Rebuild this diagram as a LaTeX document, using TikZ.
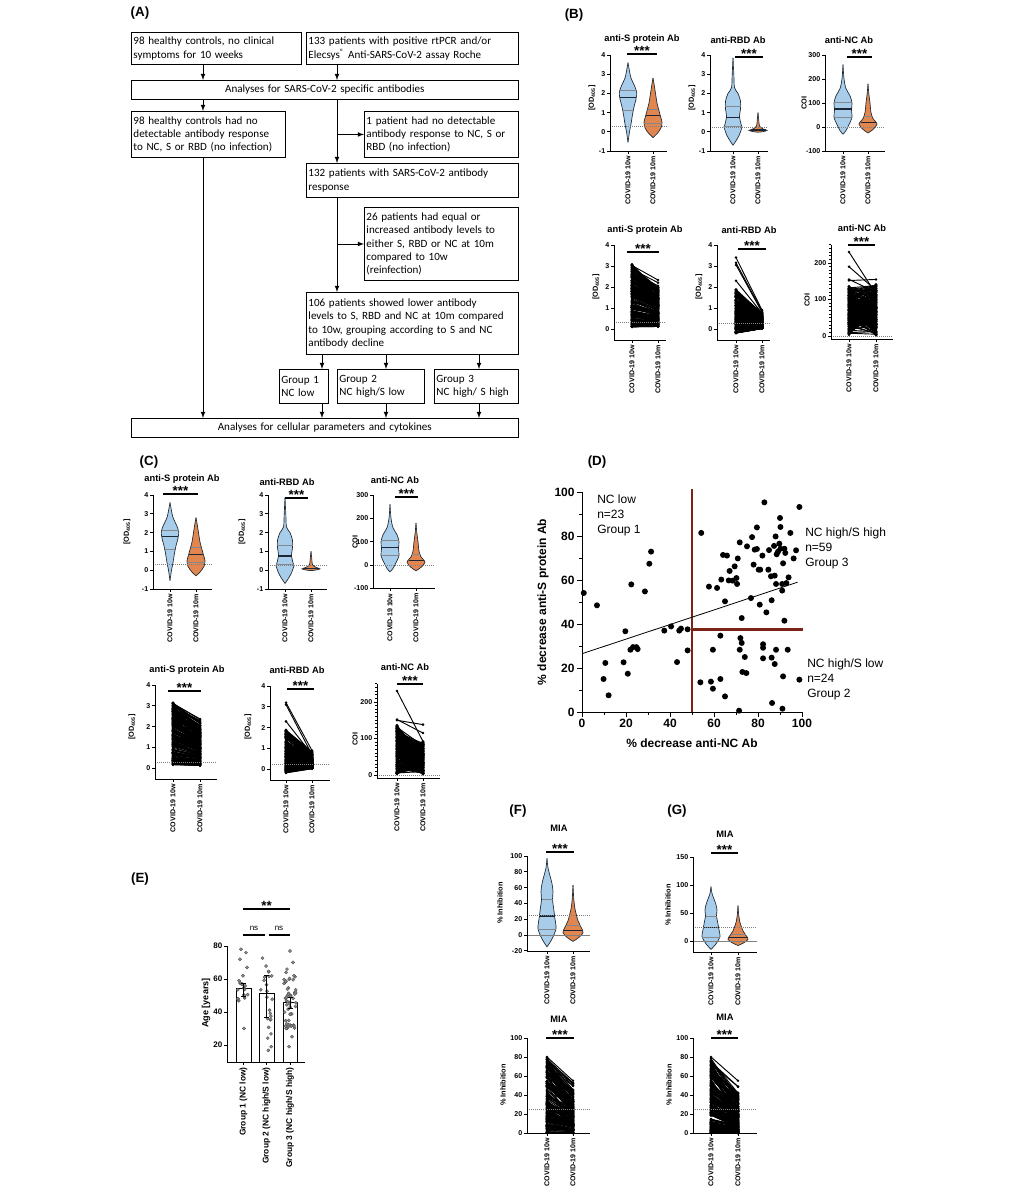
\documentclass[tikz,border=0pt]{standalone}
\usepackage{fontspec}
\setmainfont{Liberation Sans}
\newfontfamily\flowfont{Carlito}
\usetikzlibrary{calc}
\tikzset{>=latex}
\definecolor{vblue}{HTML}{A7CDEB}
\definecolor{vorange}{HTML}{E0864E}
\definecolor{vedge}{HTML}{1D2733}
\definecolor{dred}{HTML}{7B2316}
\definecolor{edotc}{HTML}{8C8C8C}

\tikzset{
  flow/.style={draw, line width=0.7pt, anchor=north west, align=left, inner xsep=1.5pt, inner ysep=1pt,
    font=\flowfont\fontsize{8.3}{10}\selectfont, execute at begin node={\hyphenpenalty=10000\relax}},
  flowc/.style={flow, align=center},
  link/.style={line width=0.6pt},
  axline/.style={line width=0.7pt},
  ticklab/.style={font=\bfseries\fontsize{5.3}{6}\selectfont, inner sep=1pt},
  catlab/.style={font=\bfseries\fontsize{5.3}{6}\selectfont, rotate=90, anchor=east, inner sep=0pt},
  ttl/.style={font=\bfseries\fontsize{7}{8}\selectfont, inner sep=0pt},
  ylab/.style={font=\bfseries\fontsize{5.5}{6}\selectfont, rotate=90, inner sep=0pt},
  starlab/.style={font=\bfseries\fontsize{10}{10}\selectfont, anchor=base, inner sep=0pt, text height=6.5pt, text depth=0pt},
  nslab/.style={font=\fontsize{6}{6}\selectfont, anchor=base, inner sep=0pt},
  sigbar/.style={line width=1pt},
  thr/.style={gray, densely dotted, line width=0.5pt},
  vline/.style={vedge, line width=0.5pt},
  vmed/.style={vedge, line width=1pt},
  vq/.style={vedge!55, line width=0.35pt},
  pline/.style={line width=0.7pt},
  edot/.style={fill=edotc, draw=black!70, line width=0.25pt},
  eticklab/.style={font=\bfseries\fontsize{6}{7}\selectfont, inner sep=1pt},
  ecatlab/.style={font=\bfseries\fontsize{6.3}{7}\selectfont, rotate=90, anchor=east, inner sep=0pt},
  dtick/.style={font=\bfseries\fontsize{9}{10}\selectfont, inner sep=1.5pt},
  dlab/.style={font=\bfseries\fontsize{9}{10}\selectfont, inner sep=0pt},
  dgrp/.style={font=\fontsize{9}{11}\selectfont, align=left, anchor=north west, inner sep=0pt},
  panellab/.style={font=\bfseries\fontsize{10}{12}\selectfont, inner sep=0pt},
}

% y axis ticks: name prefix, x of axis, list of position/label
\newcommand\yticks[3]{%
  \foreach \tp/\tl [count=\i] in {#3}
    \draw[axline] (#2,\tp) -- ++(-3,0) node[ticklab,left] (#1t\i) {\tl};}
% category ticks and labels under an x axis
\newcommand\cats[4]{%
  \draw[axline] (#2,#4) -- ++(0,3) (#3,#4) -- ++(0,3);
  \node[catlab] (#1c1) at (#2,#4+5) {COVID-19 10w};
  \node[catlab] (#1c2) at (#3,#4+5) {COVID-19 10m};}
% significance bar with stars
\newcommand\sig[4]{%
  \draw[sigbar] (#2,#4) -- (#3,#4);
  \node[starlab] (#1s) at ({(#2+#3)/2},#4+1) {***};}
% violin: centre, y of zero, px per unit, colour, right half (width,value) top to bottom
\newcommand\violin[5]{%
  \begin{scope}[shift={(#1,#2)},yscale=-#3]
    \foreach \s in {1,-1}{
      \fill[#4,xscale=\s] plot[smooth] coordinates {#5} -- cycle;
      \draw[vline,xscale=\s] plot[smooth] coordinates {#5};
    }
  \end{scope}}
\newcommand\vbar[4]{\draw[#1] ({#2-#4},{#3}) -- ({#2+#4},{#3});}
\newcommand\vSw[3]{%
  \violin{#1}{#2}{#3}{vblue}{(0,3.6) (1,3.3) (3,2.8) (6.5,2.4) (8.7,2.05) (8,1.7) (6,1.3) (4.5,0.9) (3,0.4) (1.5,0) (0,-0.55)}%
  \vbar{vq}{#1}{#2-#3*2.15}{8.5}\vbar{vq}{#1}{#2-#3*1.1}{5.2}\vbar{vmed}{#1}{#2-#3*1.8}{8.2}}
\newcommand\vSm[3]{%
  \violin{#1}{#2}{#3}{vorange}{(0,2.8) (1,2.5) (2.5,2.0) (4,1.5) (6,1.1) (7.5,0.8) (9,0.5) (8,0.2) (4,-0.1) (0,-0.3)}%
  \vbar{vq}{#1}{#2-#3*1.2}{5.4}\vbar{vq}{#1}{#2-#3*0.45}{8.9}\vbar{vmed}{#1}{#2-#3*0.85}{7.3}}
\newcommand\vRw[3]{%
  \violin{#1}{#2}{#3}{vblue}{(0,3.85) (0.8,3.0) (1.5,2.3) (5,2.0) (7.5,1.6) (7.5,1.2) (6.5,0.8) (8,0.4) (9,0.25) (6,-0.2) (2,-0.55) (0,-0.7)}%
  \vbar{vq}{#1}{#2-#3*1.35}{7.6}\vbar{vq}{#1}{#2-#3*0.3}{8.8}\vbar{vmed}{#1}{#2-#3*0.75}{6.8}}
\newcommand\vRm[3]{%
  \violin{#1}{#2}{#3}{vorange}{(0,1.0) (0.8,0.6) (1.5,0.3) (5,0.15) (9,0.07) (4,0.0) (0,-0.02)}%
  \vbar{vmed}{#1}{#2-#3*0.1}{7.5}}
\newcommand\vNw[3]{%
  \violin{#1}{#2}{#3}{vblue}{(0,260) (1,200) (3,160) (7,130) (9,100) (8.5,70) (9,40) (6,10) (3,-15) (0,-30)}%
  \vbar{vq}{#1}{#2-#3*105}{8.9}\vbar{vq}{#1}{#2-#3*40}{9}\vbar{vmed}{#1}{#2-#3*75}{8.6}}
\newcommand\vNm[3]{%
  \violin{#1}{#2}{#3}{vorange}{(0,180) (0.8,140) (2,100) (3,60) (5,35) (9,12) (5,-10) (0,-25)}%
  \vbar{vq}{#1}{#2-#3*45}{4}\vbar{vmed}{#1}{#2-#3*20}{7.5}}
\newcommand\vMw[3]{%
  \violin{#1}{#2}{#3}{vblue}{(0,97) (1,85) (3,75) (5,65) (6,55) (5.5,45) (6.5,35) (8,20) (9,8) (5,-5) (0,-15)}%
  \vbar{vq}{#1}{#2-#3*45}{5.5}\vbar{vq}{#1}{#2-#3*7}{8.9}\vbar{vmed}{#1}{#2-#3*24}{7.6}}
\newcommand\vMm[3]{%
  \violin{#1}{#2}{#3}{vorange}{(0,63) (0.8,45) (2,33) (3.5,25) (5,18) (8,10) (10,3) (5,-4) (0,-8)}%
  \vbar{vq}{#1}{#2-#3*12}{7.5}\vbar{vmed}{#1}{#2-#3*6}{9.2}}
% paired lines: x 10w, x 10m, y of zero, px per unit, count, value 10w, value 10m
\newcommand\pairs[7]{%
  \foreach \i in {1,...,#5}{%
    \pgfmathsetmacro\va{#6}%
    \pgfmathsetmacro\vb{#7}%
    \draw[pline] (#1,{#3-#4*(\va)}) -- (#2,{#3-#4*(\vb)});
    \fill (#1,{#3-#4*(\va)}) circle[radius=1.4] (#2,{#3-#4*(\vb)}) circle[radius=1.4];}}
\newcommand\pair[6]{%
  \draw[pline] (#1,{#3-#4*(#5)}) -- (#2,{#3-#4*(#6)});
  \fill (#1,{#3-#4*(#5)}) circle[radius=1.4] (#2,{#3-#4*(#6)}) circle[radius=1.4];}
% age dots: centre, count, value
\newcommand\edots[3]{%
  \foreach \i in {1,...,#2}{%
    \pgfmathsetmacro\ev{#3}%
    \pgfmathsetmacro\ex{#1+12*(rnd-0.5)}%
    \filldraw[edot] (\ex,{1078-1.65*\ev}) circle[radius=1.6];}}

\begin{document}
\begin{tikzpicture}[x=0.75pt,y=-0.75pt]
  \pgfmathsetseed{11}
  \path[use as bounding box, fill=white] (0,0) rectangle (1008,1200);

  % (A) flow chart
  \node[panellab] (lblA) at (140,13) {(A)};
  \node[flow, text width=124.5pt, minimum height=24pt] (hc10w) at (131,32) {98 healthy controls, no clinical\\symptoms for 10 weeks};
  \node[flow, text width=156pt, minimum height=24pt] (pat133) at (306,32) {133 patients with positive rtPCR and/or\\Elecsys\textsuperscript{®} Anti-SARS-CoV-2 assay Roche};
  \node[flowc, text width=287pt, minimum height=14.25pt] (abtest) at (131,80) {Analyses for SARS-CoV-2 specific antibodies};
  \node[flow, text width=112.5pt, minimum height=34.5pt] (hcneg) at (131,111) {98 healthy controls had no\\detectable antibody response\\to NC, S or RBD (no infection)};
  \node[flow, text width=112.5pt, minimum height=34.5pt] (patneg) at (364,111) {1 patient had no detectable\\antibody response to NC, S or\\RBD (no infection)};
  \node[flow, text width=156pt, minimum height=25.5pt] (pat132) at (306,163) {132 patients with SARS-CoV-2 antibody\\response};
  \node[flow, text width=112.5pt, minimum height=54.75pt] (reinf) at (364,207) {26 patients had equal or\\increased antibody levels to\\either S, RBD or NC at 10m\\compared to 10w\\(reinfection)};
  \node[flow, text width=156pt, minimum height=46.5pt] (pat106) at (306,292) {106 patients showed lower antibody\\levels to S, RBD and NC at 10m compared\\to 10w, grouping according to S and NC\\antibody decline};
  \node[flow, text width=33.75pt, minimum height=25.5pt] (grp1) at (279,369) {Group 1\\NC low};
  \node[flow, text width=62.25pt, minimum height=25.5pt] (grp2) at (337,369) {Group 2\\NC high/S low};
  \node[flow, text width=60pt, minimum height=25.5pt] (grp3) at (434,369) {Group 3\\NC high/ S high};
  \node[flowc, text width=287pt, minimum height=14.25pt] (cellan) at (131,418) {Analyses for cellular parameters and cytokines};

  \coordinate (xh) at (203,0);
  \coordinate (xp) at (337,0);
  \coordinate (xg1) at (322,0);
  \coordinate (xg2) at (386,0);
  \coordinate (xg3) at (479,0);
  \draw[link,->] (hc10w.south -| xh) -- (abtest.north -| xh);
  \draw[link,->] (pat133.south -| xp) -- (abtest.north -| xp);
  \draw[link,->] (abtest.south -| xh) -- (hcneg.north -| xh);
  \draw[link,->] (abtest.south -| xp) -- (pat132.north -| xp);
  \draw[link,->] (patneg.west -| xp) -- (patneg.west);
  \draw[link,->] (pat132.south -| xp) -- (pat106.north -| xp);
  \draw[link,->] (reinf.west -| xp) -- (reinf.west);
  \foreach \g/\c in {grp1/xg1, grp2/xg2, grp3/xg3}{
    \draw[link,->] (pat106.south -| \c) -- (\g.north -| \c);
    \draw[link,->] (\g.south -| \c) -- (cellan.north -| \c);
  }
  \draw[link,->] (hcneg.south -| xh) -- (cellan.north -| xh);

  % (B) violins
  \node[panellab] (lblB) at (574,15) {(B)};
  \vSw{628}{131.8}{19.2}
  \vSm{653}{131.8}{19.2}
  \draw[thr] (610,126) -- (667,126);
  \draw[axline] (610,55) -- (610,151) -- (667,151);
  \yticks{bs}{610}{55/4,74.2/3,93.4/2,112.6/1,131.8/0,151/-1}
  \cats{bs}{628}{653}{151}
  \node[ttl] (bst) at (642,39) {anti-S protein Ab};
  \sig{bs}{627}{657}{54}
  \node[ylab] (bsy) at (592,98) {[OD\textsubscript{405}]};

  \vRw{733}{131.8}{19.2}
  \vRm{758}{131.8}{19.2}
  \draw[thr] (710,127) -- (768,127);
  \draw[axline] (710,55) -- (710,151) -- (768,151);
  \yticks{br}{710}{55/4,74.2/3,93.4/2,112.6/1,131.8/0,151/-1}
  \cats{br}{733}{758}{151}
  \node[ttl] (brt) at (738,40) {anti-RBD Ab};
  \sig{br}{735}{763}{57}
  \node[ylab] (bry) at (692,98) {[OD\textsubscript{405}]};

  \vNw{843}{127}{0.24}
  \vNm{868}{127}{0.24}
  \draw[thr] (825,127) -- (885,127);
  \draw[axline] (825,55) -- (825,151) -- (885,151);
  \yticks{bn}{825}{55/300,79/200,103/100,127/0,151/-100}
  \cats{bn}{843}{868}{151}
  \node[ttl] (bnt) at (849,40) {anti-NC Ab};
  \sig{bn}{847}{872}{57}
  \node[ylab] (bny) at (804,103) {COI};

  % (B) paired
  \pairs{632}{658}{329}{21}{190}{0.1+3*rnd}{0.12+(\va-0.1)*(0.5+0.27*rnd)}
  \draw[thr] (614,322.7) -- (666,322.7);
  \draw[axline] (614,245) -- (614,340) -- (666,340);
  \yticks{bps}{614}{245/4,266/3,287/2,308/1,329/0}
  \cats{bps}{632}{658}{340}
  \node[ttl] (bpst) at (645,230) {anti-S protein Ab};
  \sig{bps}{627}{659}{252}
  \node[ylab] (bpsy) at (596,287) {[OD\textsubscript{405}]};

  \pairs{736}{762}{329}{21}{190}{-0.2+2.1*rnd^1.2}{0.02+(\va+0.2)*(0.2+0.2*rnd)}
  \pair{736}{762}{329}{21}{3.4}{0.9}
  \pair{736}{762}{329}{21}{3.15}{0.85}
  \pair{736}{762}{329}{21}{3.05}{0.8}
  \pair{736}{762}{329}{21}{2.3}{0.75}
  \draw[thr] (717,323.7) -- (770,323.7);
  \draw[axline] (717,245) -- (717,340) -- (770,340);
  \yticks{bpr}{717}{245/4,266/3,287/2,308/1,329/0}
  \cats{bpr}{736}{762}{340}
  \node[ttl] (bprt) at (749,230) {anti-RBD Ab};
  \sig{bpr}{738}{766}{249}
  \node[ylab] (bpry) at (699,287) {[OD\textsubscript{405}]};

  \pairs{849}{876}{336}{0.365}{190}{2+135*rnd}{2+140*rnd}
  \pair{849}{876}{336}{0.365}{230}{115}
  \pair{849}{876}{336}{0.365}{190}{125}
  \pair{849}{876}{336}{0.365}{152}{155}
  \pair{849}{876}{336}{0.365}{155}{120}
  \draw[thr] (831,336) -- (893,336);
  \draw[axline] (831,245) -- (831,339) -- (893,339);
  \foreach \m in {0,10,...,250} \draw[axline] (831,{336-0.365*\m}) -- ++(-2,0);
  \yticks{bpn}{831}{263/200,299.5/100,336/0}
  \cats{bpn}{849}{876}{339}
  \node[ttl] (bpnt) at (862,228) {anti-NC Ab};
  \sig{bpn}{848}{875}{245}
  \node[ylab] (bpny) at (807,300) {COI};

  % (C) violins
  \node[panellab] (lblC) at (149,462) {(C)};
  \vSw{170}{570.2}{18.8}
  \vSm{196}{570.2}{18.8}
  \draw[thr] (153,564.6) -- (212,564.6);
  \draw[axline] (153,495) -- (153,589) -- (212,589);
  \yticks{cs}{153}{495/4,513.8/3,532.6/2,551.4/1,570.2/0,589/-1}
  \cats{cs}{170}{196}{589}
  \node[ttl] (cst) at (182,479) {anti-S protein Ab};
  \sig{cs}{163}{198}{494}
  \node[ylab] (csy) at (127,532) {[OD\textsubscript{405}]};

  \vRw{285}{570.2}{18.8}
  \vRm{311}{570.2}{18.8}
  \draw[thr] (268,565.5) -- (327,565.5);
  \draw[axline] (268,495) -- (268,589) -- (327,589);
  \yticks{cr}{268}{495/4,513.8/3,532.6/2,551.4/1,570.2/0,589/-1}
  \cats{cr}{285}{311}{589}
  \node[ttl] (crt) at (287,482) {anti-RBD Ab};
  \sig{cr}{285}{308}{498}
  \node[ylab] (cry) at (242,532) {[OD\textsubscript{405}]};

  \vNw{390}{565}{0.233}
  \vNm{416}{565}{0.233}
  \draw[thr] (373,565) -- (435,565);
  \draw[axline] (373,495) -- (373,588.3) -- (435,588.3);
  \yticks{cn}{373}{495/300,518.3/200,541.7/100,565/0,588.3/-100}
  \cats{cn}{390}{416}{588.3}
  \node[ttl] (cnt) at (395,480) {anti-NC Ab};
  \sig{cn}{395}{418}{497}
  \node[ylab] (cny) at (355,542) {COI};

  % (C) paired
  \pairs{173}{200}{768.2}{20.8}{190}{0.15+3*rnd}{0.12+(\va-0.15)*(0.5+0.27*rnd)}
  \draw[thr] (155,762) -- (217,762);
  \draw[axline] (155,685) -- (155,779) -- (217,779);
  \yticks{cps}{155}{685/4,705.8/3,726.6/2,747.4/1,768.2/0}
  \cats{cps}{173}{200}{779}
  \node[ttl] (cpst) at (187,670) {anti-S protein Ab};
  \sig{cps}{168}{201}{691}
  \node[ylab] (cpsy) at (132,727) {[OD\textsubscript{405}]};

  \pairs{286}{312}{769.2}{20.8}{190}{-0.2+2.1*rnd^1.2}{0.02+(\va+0.2)*(0.2+0.2*rnd)}
  \pair{286}{312}{769.2}{20.8}{3.2}{0.9}
  \pair{286}{312}{769.2}{20.8}{3.1}{0.7}
  \pair{286}{312}{769.2}{20.8}{2.3}{0.7}
  \draw[thr] (270,764) -- (330,764);
  \draw[axline] (270,686) -- (270,780) -- (330,780);
  \yticks{cpr}{270}{686/4,706.8/3,727.6/2,748.4/1,769.2/0}
  \cats{cpr}{286}{312}{780}
  \node[ttl] (cprt) at (297,670) {anti-RBD Ab};
  \sig{cpr}{287}{314}{689}
  \node[ylab] (cpry) at (248,727) {[OD\textsubscript{405}]};

  \pairs{397}{423}{775}{0.365}{190}{2+135*rnd}{2+90*rnd^1.1}
  \pair{397}{423}{775}{0.365}{230}{92}
  \pair{397}{423}{775}{0.365}{150}{138}
  \pair{397}{423}{775}{0.365}{152}{115}
  \draw[thr] (377,775) -- (440,775);
  \draw[axline] (377,684) -- (377,778) -- (440,778);
  \foreach \m in {0,10,...,250} \draw[axline] (377,{775-0.365*\m}) -- ++(-2,0);
  \yticks{cpn}{377}{702/200,738.5/100,775/0}
  \cats{cpn}{397}{423}{778}
  \node[ttl] (cpnt) at (405,667) {anti-NC Ab};
  \sig{cpn}{397}{423}{684}
  \node[ylab] (cpny) at (355,739) {COI};

  % (D) scatter
  \node[panellab] (lblD) at (597,462) {(D)};
  \draw[axline] (582,492) -- (582,712) -- (802,712);
  \foreach \v [count=\i] in {0,20,...,100}{
    \draw[axline] ({582+2.2*\v},712) -- ++(0,5) node[dtick,below] (dx\i) {\v};
    \draw[axline] (582,{712-2.2*\v}) -- ++(-5,0) node[dtick,left] (dy\i) {\v};
  }
  \foreach \v in {10,30,...,90}{
    \draw[axline] ({582+2.2*\v},712) -- ++(0,3);
    \draw[axline] (582,{712-2.2*\v}) -- ++(-3,0);
  }
  \node[dlab] (dxl) at (692,743) {\% decrease anti-NC Ab};
  \node[dlab, rotate=90] (dyl) at (543,602) {\% decrease anti-S protein Ab};
  \draw[dred, line width=2.2pt] (692,489) -- (692,712);
  \draw[dred, line width=2.2pt] (692,629.5) -- (803,629.5);
  \draw[line width=0.6pt] (582,653.7) -- (797.6,582.2);
  \foreach \ncx/\ncs in {0.8/54.1, 6.8/48.5, 9.8/15, 10.6/22.3, 12.1/7.6, 18.9/22.6, 19.7/36.7, 20.8/17.4,
      22.4/58, 22/28.3, 23.2/29.5, 24.7/29.5, 25.3/28.6, 28.6/54.8, 30.6/67.4, 31.4/72.9, 37.4/37,
      40.5/38.9, 43.2/22.7, 44.2/37, 45/37.9, 48/37.6, 48/28, 54.2/81.4, 53.8/13.5, 57.7/57,
      59.5/28.3, 58.6/13.8, 59.5/10.6, 61.4/56.4, 62.9/15, 62.9/34.7, 63.3/60.2, 64.1/71.4,
      65.9/71.1, 65/50.3, 65/7.1, 66.7/59.8, 67.1/64.1, 68.5/59.7, 69.4/66.2, 70.2/60.9,
      70.5/58.2, 70.8/69.8, 71.4/0.6, 71.7/77.1, 72/33.6, 71.7/28.3, 72.6/42.7, 72.6/31.4,
      72.9/18.2, 74/25, 74.7/17.7, 75/75.3, 76.8/51.8, 77.3/79.5, 78/67, 78.5/73.8, 79.5/74.1,
      79.5/83.9, 80.3/64.7, 81/64.7, 80.8/48.8, 82/71.1, 82.3/30.8, 82.3/29.2, 82.3/24.4,
      82.9/95.3, 83.8/45.3, 84.7/64.7, 85/73.6, 85.9/61.7, 86.2/24.7, 86.2/50.8, 86.4/4.1,
      87.3/75.5, 87.6/21.8, 88/79.8, 87.6/62, 88.2/58.2, 88.2/28.3, 88.5/71.7, 89.1/72.9,
      89.7/76.5, 90/88.2, 90.2/84.1, 90.2/74.2, 91/58.2, 91/55.2, 91.4/67.6, 91.4/16.2,
      91.1/1.5, 92/41.5, 92/74.2, 92.4/72.3, 92.9/58.6, 93.5/28.3, 93.9/61.2, 94.7/81.4,
      96.2/69.8, 97.3/73.5, 98.8/14.7, 98.8/93.2}
    \fill ({582+2.2*\ncx},{712-2.2*\ncs}) circle[radius=3];
  \node[dgrp] (dg1) at (597,495) {NC low\\n=23\\Group 1};
  \node[dgrp] (dg3) at (805,528) {NC high/S high\\n=59\\Group 3};
  \node[dgrp] (dg2) at (807,659) {NC high/S low\\n=24\\Group 2};

  % (E) age
  \node[panellab] (lblE) at (140,879) {(E)};
  \draw[axline, fill=white] (236,1062) rectangle (251,988.9);
  \draw[axline, fill=white] (259,1062) rectangle (274,993);
  \draw[axline, fill=white] (283,1062) rectangle (297,1002);
  \edots{243.5}{17}{46+12*rnd}
  \foreach \ex/\ev in {241/78, 246/76, 240/72, 247/67, 243/62, 239/59, 244/30}
    \filldraw[edot] (\ex,{1078-1.65*\ev}) circle[radius=1.6];
  \edots{266.5}{24}{16+57*rnd}
  \edots{290}{52}{30+32*rnd^1.2}
  \foreach \ex/\ev in {289/19, 292/25, 287/66, 293/70, 290/77, 286/64, 294/62}
    \filldraw[edot] (\ex,{1078-1.65*\ev}) circle[radius=1.6];
  \draw[axline] (243.5,996.3) -- (243.5,983) (241,996.3) -- (246,996.3) (241,983) -- (246,983);
  \draw[axline] (266.5,1017) -- (266.5,975.7) (264,1017) -- (269,1017) (264,975.7) -- (269,975.7);
  \draw[axline] (290,1008.7) -- (290,997) (287.5,1008.7) -- (292.5,1008.7) (287.5,997) -- (292.5,997);
  \draw[axline] (227,946) -- (227,1062) -- (305,1062);
  \foreach \tp/\tl [count=\i] in {946/80,979/60,1012/40,1045/20}
    \draw[axline] (227,\tp) -- ++(-3,0) node[eticklab,left] (et\i) {\tl};
  \draw[axline] (243.5,1062) -- ++(0,3) (266.5,1062) -- ++(0,3) (290,1062) -- ++(0,3);
  \node[ecatlab] (ec1) at (243.5,1067) {Group 1 (NC low)};
  \node[ecatlab] (ec2) at (266.5,1067) {Group 2 (NC high/S low)};
  \node[ecatlab] (ec3) at (290,1067) {Group 3 (NC high/S high)};
  \node[ylab, font=\bfseries\fontsize{6.8}{7}\selectfont] (ey) at (206,1003) {Age [years]};
  \draw[sigbar] (243,909) -- (290,909);
  \node[starlab] (es) at (266.5,910) {**};
  \draw[sigbar] (243,935) -- (265,935);
  \draw[sigbar] (269,935) -- (290,935);
  \node[nslab] (ens1) at (254,930) {ns};
  \node[nslab] (ens2) at (279,930) {ns};

  % (F) MIA
  \node[panellab] (lblF) at (518,811) {(F)};
  \vMw{547}{935}{0.79}
  \vMm{573}{935}{0.79}
  \draw[gray, line width=0.5pt] (527,935) -- (590,935);
  \draw[thr] (527,915.3) -- (590,915.3);
  \draw[axline] (527,856) -- (527,951) -- (590,951);
  \yticks{fm}{527}{856/100,871.8/80,887.6/60,903.4/40,919.2/20,935/0,950.8/-20}
  \cats{fm}{547}{573}{951}
  \node[ttl] (fmt) at (559,828) {MIA};
  \sig{fm}{546}{574}{852}
  \node[ylab] (fmy) at (500,903) {\% Inhibition};

  \pairs{547}{573}{1133}{0.95}{180}{80*rnd^1.3}{\va*(0.3+0.4*rnd)}
  \pair{547}{573}{1133}{0.95}{80}{55}
  \pair{547}{573}{1133}{0.95}{75}{52}
  \pair{547}{573}{1133}{0.95}{73}{44}
  \draw[thr] (527,1109) -- (590,1109);
  \draw[axline] (527,1038) -- (527,1133) -- (590,1133);
  \yticks{fp}{527}{1038/100,1057/80,1076/60,1095/40,1114/20,1133/0}
  \cats{fp}{547}{573}{1133}
  \node[ttl] (fpt) at (559,1019) {MIA};
  \sig{fp}{546}{574}{1038}
  \node[ylab] (fpy) at (503,1085) {\% Inhibition};

  % (G) MIA
  \node[panellab] (lblG) at (677,811) {(G)};
  \vMw{711}{941}{0.56}
  \vMm{738}{941}{0.56}
  \draw[gray, line width=0.5pt] (693,941) -- (757,941);
  \draw[thr] (693,927) -- (757,927);
  \draw[axline] (693,857) -- (693,952) -- (757,952);
  \yticks{gm}{693}{857/150,885/100,913/50,941/0}
  \cats{gm}{711}{738}{952}
  \node[ttl] (gmt) at (725,834) {MIA};
  \sig{gm}{711}{738}{853}
  \node[ylab] (gmy) at (668,905) {\% Inhibition};

  \pairs{711}{738}{1133}{0.95}{180}{80*rnd^1.3}{\va*(0.3+0.38*rnd)}
  \pair{711}{738}{1133}{0.95}{80}{55}
  \pair{711}{738}{1133}{0.95}{75}{40}
  \draw[thr] (693,1109) -- (757,1109);
  \draw[axline] (693,1038) -- (693,1133) -- (757,1133);
  \yticks{gp}{693}{1038/100,1057/80,1076/60,1095/40,1114/20,1133/0}
  \cats{gp}{711}{738}{1133}
  \node[ttl] (gpt) at (725,1017) {MIA};
  \sig{gp}{711}{738}{1038}
  \node[ylab] (gpy) at (669,1085) {\% Inhibition};
\end{tikzpicture}
\end{document}
